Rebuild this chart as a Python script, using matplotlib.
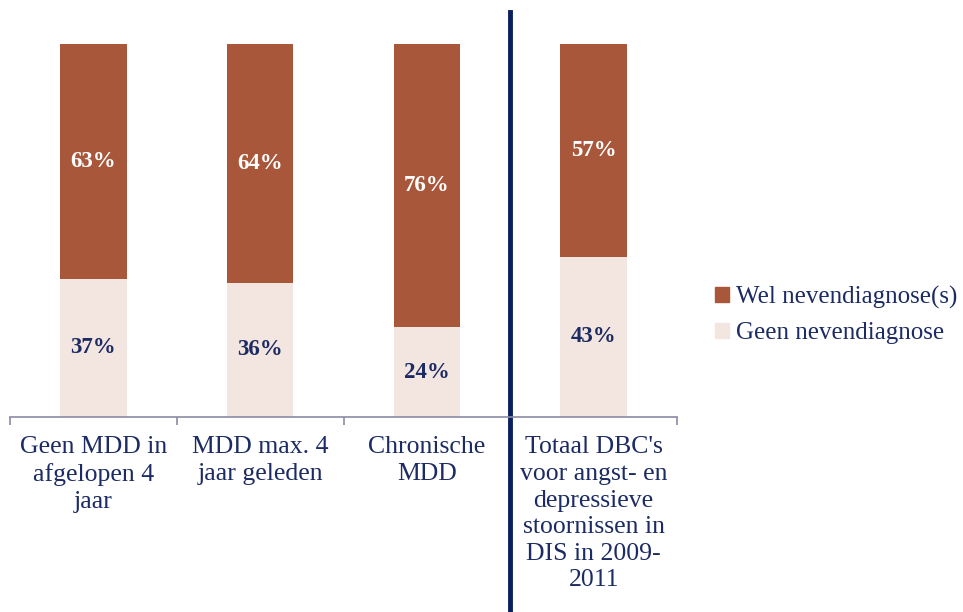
import numpy as np
import matplotlib
matplotlib.use('agg')
import matplotlib.pyplot as plt
from matplotlib.patches import Patch

categories = [
    "Geen MDD in\nafgelopen 4\njaar",
    "MDD max. 4\njaar geleden",
    "Chronische\nMDD",
    "Totaal DBC's\nvoor angst- en\ndepressieve\nstoornissen in\nDIS in 2009-\n2011",
]
geen = [37, 36, 24, 43]   # Geen nevendiagnose (%)
wel = [63, 64, 76, 57]    # Wel nevendiagnose(s) (%)

c_wel = "#A9573A"
c_geen = "#F3E5DF"
navy = "#1C2B63"

plt.rcParams['font.family'] = ['Liberation Serif', 'DejaVu Serif']

fig = plt.figure(figsize=(9.63, 6.12), dpi=100)
ax = fig.add_axes([10 / 963, 195 / 612, 667 / 963, 373 / 612])

x = np.arange(len(categories))
ax.bar(x, geen, width=0.4, color=c_geen)
ax.bar(x, wel, width=0.4, bottom=geen, color=c_wel)

for xi, g, w in zip(x, geen, wel):
    ax.text(xi, g / 2, f"{g}%", ha="center", va="center", color=navy,
            fontsize=16.5, fontweight="bold")
    ax.text(xi, g + w / 2, f"{w}%", ha="center", va="center", color="white",
            fontsize=16.5, fontweight="bold")

ax.set_xlim(-0.5, len(categories) - 0.5)
ax.set_ylim(0, 100)
for s in ["top", "right", "left"]:
    ax.spines[s].set_visible(False)
ax.spines["bottom"].set_color("#8A8AA6")
ax.spines["bottom"].set_linewidth(1.2)
ax.set_yticks([])

ax.set_xticks(x)
ax.set_xticklabels(categories, fontsize=18.5, color=navy, linespacing=1.27)
ax.tick_params(axis="x", which="major", length=0, pad=14)
ax.set_xticks(np.arange(len(categories) + 1) - 0.5, minor=True)
ax.tick_params(axis="x", which="minor", length=6, width=1.2,
               color="#8A8AA6", direction="out")

# separator between the three groups and the total
ax.axvline(2.5, ymin=-195 / 373, ymax=(600 - 195) / 373, color="#0B1F5E",
           lw=3.5, clip_on=False)

handles = [Patch(color=c_wel), Patch(color=c_geen)]
fig.legend(handles, ["Wel nevendiagnose(s)", "Geen nevendiagnose"],
           loc="center left", bbox_to_anchor=(705 / 963, 1 - 315 / 612),
           frameon=False, fontsize=18, labelcolor=navy,
           handlelength=0.55, handleheight=0.55, handletextpad=0.3,
           labelspacing=0.55, borderaxespad=0)

fig.savefig("out.png", dpi=100, facecolor="w")
